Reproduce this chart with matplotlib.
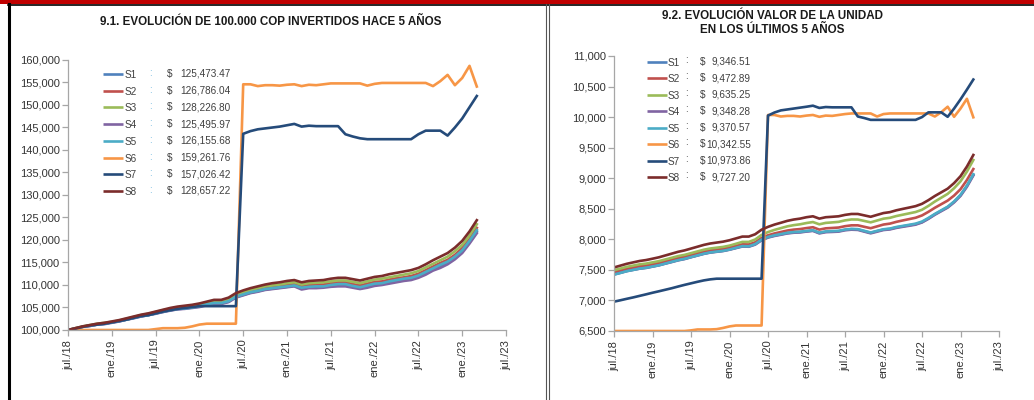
import matplotlib
matplotlib.use("Agg")
import matplotlib.pyplot as plt
from matplotlib.lines import Line2D
from matplotlib.ticker import FuncFormatter
import numpy as np

plt.rcParams['font.family'] = ['Liberation Sans', 'DejaVu Sans']

W, H = 1034, 400

tick_labels = ["jul./18", "ene./19", "jul./19", "ene./20", "jul./20", "ene./21",
               "jul./21", "ene./22", "jul./22", "ene./23", "jul./23"]
names = ["S1", "S2", "S3", "S4", "S5", "S6", "S7", "S8"]
colors = ["#4F81BD", "#C0504D", "#9BBB59", "#8064A2", "#4BACC6", "#F79646", "#254B7A", "#7B2C2B"]
legend_left = ["125,473.47", "126,786.04", "128,226.80", "125,495.97",
               "126,155.68", "159,261.76", "157,026.42", "128,657.22"]
legend_right = ["9,346.51", "9,472.89", "9,635.25", "9,348.28",
                "9,370.57", "10,342.55", "10,973.86", "9,727.20"]

# 9.1 value of 100.000 COP, monthly jul/18 .. mar/23 (thousands)
left_s1 = [100.0, 100.3, 100.7, 100.9, 101.2, 101.4, 101.7, 101.9, 102.3, 102.7, 103.0, 103.3, 103.7, 104.0, 104.4,
           104.6, 104.8, 105.0, 105.2, 105.6, 105.9, 105.9, 106.3, 107.3, 107.8, 108.3, 108.6, 109.0, 109.2, 109.4,
           109.6, 109.8, 109.2, 109.5, 109.6, 109.6, 109.8, 110.0, 110.0, 109.6, 109.3, 109.7, 110.1, 110.2, 110.6,
           110.9, 111.2, 111.4, 111.9, 112.6, 113.4, 114.2, 114.9, 116.0, 117.4, 119.5, 121.9]
left_s2 = [100.0, 100.4, 100.7, 101.0, 101.3, 101.5, 101.7, 102.0, 102.4, 102.8, 103.1, 103.4, 103.8, 104.2, 104.5,
           104.8, 105.0, 105.2, 105.4, 105.8, 106.1, 106.1, 106.6, 107.5, 108.1, 108.6, 109.0, 109.3, 109.6, 109.8,
           110.1, 110.2, 109.7, 110.0, 110.1, 110.1, 110.4, 110.6, 110.6, 110.2, 109.9, 110.3, 110.7, 110.8, 111.2,
           111.5, 111.7, 112.0, 112.5, 113.3, 114.1, 114.9, 115.6, 116.7, 118.2, 120.2, 122.7]
left_s3 = [100.0, 100.4, 100.8, 101.1, 101.4, 101.6, 101.8, 102.1, 102.5, 102.9, 103.3, 103.6, 104.0, 104.4, 104.7,
           105.0, 105.2, 105.4, 105.7, 106.1, 106.4, 106.4, 106.9, 107.9, 108.4, 108.9, 109.3, 109.7, 109.9, 110.1,
           110.4, 110.6, 110.1, 110.4, 110.5, 110.6, 110.8, 111.0, 111.0, 110.7, 110.4, 110.8, 111.2, 111.4, 111.7,
           112.0, 112.3, 112.6, 113.1, 113.9, 114.7, 115.5, 116.3, 117.5, 118.9, 121.0, 123.5]
left_s4 = [100.0, 100.3, 100.7, 100.9, 101.2, 101.3, 101.6, 101.9, 102.3, 102.6, 103.0, 103.3, 103.6, 104.0, 104.3,
           104.6, 104.7, 104.9, 105.1, 105.5, 105.8, 105.8, 106.2, 107.2, 107.7, 108.2, 108.5, 108.9, 109.1, 109.3,
           109.5, 109.7, 109.0, 109.3, 109.3, 109.4, 109.6, 109.7, 109.7, 109.4, 109.1, 109.4, 109.8, 110.0, 110.3,
           110.6, 110.9, 111.1, 111.6, 112.3, 113.2, 113.8, 114.6, 115.7, 117.1, 119.2, 121.5]
left_s5 = [100.0, 100.3, 100.7, 101.0, 101.2, 101.4, 101.7, 102.0, 102.3, 102.7, 103.1, 103.3, 103.7, 104.1, 104.4,
           104.7, 104.8, 105.0, 105.3, 105.7, 106.0, 106.0, 106.4, 107.4, 107.9, 108.4, 108.7, 109.1, 109.3, 109.5,
           109.7, 109.9, 109.4, 109.6, 109.7, 109.7, 110.0, 110.2, 110.2, 109.8, 109.5, 109.9, 110.3, 110.4, 110.8,
           111.1, 111.4, 111.6, 112.1, 112.9, 113.7, 114.5, 115.2, 116.3, 117.7, 119.8, 122.2]
left_s6 = [100.0, 100.0, 100.0, 100.0, 100.0, 100.0, 100.0, 100.0, 100.0, 100.0, 100.0, 100.0, 100.2, 100.4, 100.4,
           100.4, 100.5, 100.8, 101.2, 101.4, 101.4, 101.4, 101.4, 101.4, 154.6, 154.6, 154.2, 154.4, 154.4, 154.3,
           154.5, 154.6, 154.2, 154.5, 154.4, 154.6, 154.8, 154.8, 154.8, 154.8, 154.8, 154.3, 154.7, 154.9, 154.9,
           154.9, 154.9, 154.9, 154.9, 154.9, 154.2, 155.3, 156.7, 154.4, 156.0, 158.7, 154.1]
left_s7 = [100.0, 100.3, 100.7, 101.0, 101.2, 101.4, 101.7, 102.0, 102.3, 102.7, 103.1, 103.3, 103.7, 104.1, 104.4,
           104.7, 104.9, 105.1, 105.3, 105.3, 105.3, 105.3, 105.3, 105.3, 143.6, 144.2, 144.6, 144.8, 145.0, 145.2,
           145.5, 145.8, 145.2, 145.4, 145.3, 145.3, 145.3, 145.3, 143.5, 143.0, 142.6, 142.4, 142.4, 142.4, 142.4,
           142.4, 142.4, 142.4, 143.5, 144.3, 144.3, 144.3, 143.2, 145.0, 147.0, 149.5, 152.0]
left_s8 = [100.0, 100.4, 100.8, 101.1, 101.4, 101.6, 101.9, 102.2, 102.6, 103.0, 103.4, 103.7, 104.1, 104.5, 104.9,
           105.2, 105.4, 105.6, 105.9, 106.3, 106.7, 106.7, 107.2, 108.2, 108.8, 109.3, 109.7, 110.1, 110.4, 110.6,
           110.9, 111.1, 110.6, 110.9, 111.0, 111.1, 111.4, 111.6, 111.6, 111.3, 111.0, 111.4, 111.8, 112.0, 112.4,
           112.7, 113.0, 113.3, 113.8, 114.6, 115.5, 116.3, 117.1, 118.3, 119.8, 121.9, 124.4]

# 9.2 unit value, monthly jul/18 .. mar/23
right_s1 = [7428, 7456, 7484, 7505, 7525, 7538, 7558, 7579, 7607, 7634, 7662, 7683, 7711, 7739, 7767, 7788, 7801, 7814,
            7835, 7862, 7888, 7885, 7920, 7991, 8034, 8061, 8081, 8102, 8114, 8119, 8132, 8144, 8104, 8124, 8129, 8134,
            8155, 8166, 8162, 8134, 8107, 8134, 8160, 8170, 8195, 8213, 8230, 8248, 8281, 8341, 8409, 8468, 8528, 8613,
            8720, 8872, 9055]
right_s2 = [7464, 7492, 7519, 7540, 7561, 7573, 7593, 7613, 7641, 7668, 7696, 7716, 7744, 7771, 7799, 7819, 7832, 7844,
            7865, 7892, 7919, 7916, 7951, 8023, 8066, 8096, 8120, 8144, 8159, 8168, 8184, 8198, 8159, 8180, 8186, 8193,
            8215, 8229, 8229, 8205, 8182, 8212, 8242, 8257, 8286, 8309, 8331, 8353, 8391, 8450, 8516, 8575, 8634, 8716,
            8820, 8970, 9150]
right_s3 = [7495, 7522, 7550, 7570, 7591, 7603, 7623, 7643, 7671, 7698, 7726, 7746, 7774, 7802, 7830, 7850, 7863, 7876,
            7897, 7927, 7958, 7958, 7997, 8072, 8119, 8154, 8183, 8212, 8232, 8246, 8267, 8283, 8246, 8269, 8277, 8286,
            8310, 8325, 8324, 8301, 8278, 8308, 8338, 8352, 8381, 8403, 8425, 8447, 8484, 8547, 8618, 8681, 8744, 8836,
            8949, 9108, 9298]
right_s4 = [7425, 7452, 7480, 7500, 7520, 7532, 7553, 7574, 7602, 7628, 7656, 7677, 7707, 7734, 7762, 7783, 7796, 7808,
            7830, 7856, 7882, 7879, 7913, 7984, 8029, 8055, 8075, 8096, 8108, 8113, 8127, 8138, 8097, 8117, 8121, 8126,
            8148, 8158, 8154, 8126, 8098, 8125, 8152, 8162, 8187, 8205, 8222, 8240, 8276, 8335, 8402, 8461, 8519, 8604,
            8710, 8860, 9045]
right_s5 = [7422, 7450, 7479, 7500, 7521, 7535, 7555, 7576, 7604, 7632, 7660, 7681, 7709, 7737, 7765, 7786, 7799, 7812,
            7833, 7861, 7889, 7886, 7922, 7995, 8039, 8066, 8086, 8107, 8119, 8124, 8137, 8149, 8109, 8129, 8134, 8139,
            8160, 8171, 8167, 8139, 8112, 8139, 8165, 8176, 8202, 8220, 8238, 8257, 8291, 8350, 8416, 8475, 8534, 8620,
            8728, 8881, 9065]
right_s6 = [6500, 6500, 6500, 6500, 6500, 6500, 6500, 6500, 6500, 6500, 6500, 6500, 6510, 6525, 6525, 6525, 6530, 6550,
            6575, 6590, 6590, 6590, 6590, 6590, 10035, 10035, 10010, 10020, 10020, 10010, 10025, 10035, 10005, 10025,
            10020, 10035, 10050, 10060, 10060, 10060, 10060, 10010, 10050, 10060, 10060, 10060, 10060, 10060, 10060,
            10060, 10010, 10080, 10170, 10005, 10140, 10300, 9997]
right_s7 = [6980, 7003, 7027, 7050, 7075, 7100, 7126, 7150, 7175, 7200, 7228, 7255, 7280, 7305, 7328, 7345, 7356, 7356,
            7356, 7356, 7356, 7356, 7356, 7356, 10025, 10075, 10110, 10125, 10140, 10155, 10170, 10187, 10150, 10165,
            10160, 10160, 10160, 10160, 10010, 9985, 9955, 9955, 9955, 9955, 9955, 9955, 9955, 9955, 10000, 10078,
            10078, 10078, 10005, 10140, 10290, 10450, 10615]
right_s8 = [7540, 7570, 7600, 7623, 7646, 7661, 7683, 7706, 7736, 7766, 7796, 7819, 7849, 7879, 7909, 7932, 7947, 7962,
            7985, 8015, 8045, 8045, 8083, 8158, 8204, 8241, 8271, 8302, 8324, 8339, 8362, 8377, 8339, 8362, 8369, 8377,
            8400, 8415, 8415, 8392, 8369, 8400, 8430, 8445, 8475, 8498, 8520, 8543, 8581, 8641, 8709, 8769, 8829, 8920,
            9033, 9191, 9380]

left_data = [left_s1, left_s2, left_s3, left_s4, left_s5, left_s6, left_s7, left_s8]
right_data = [right_s1, right_s2, right_s3, right_s4, right_s5, right_s6, right_s7, right_s8]


def fx(x):
    return x / W


def fy(y):
    return 1 - y / H


def style_axis(ax, ymin, ymax, ystep):
    ax.set_xlim(0, 60)
    ax.set_ylim(ymin, ymax)
    ax.set_xticks(np.arange(0, 61, 6))
    ax.set_xticklabels(tick_labels, rotation=90)
    ax.set_yticks(np.arange(ymin, ymax + 1, ystep))
    ax.yaxis.set_major_formatter(FuncFormatter(lambda v, p: f"{v:,.0f}"))
    for s in ["top", "right"]:
        ax.spines[s].set_visible(False)
    for s in ["left", "bottom"]:
        ax.spines[s].set_color("#A6A6A6")
        ax.spines[s].set_linewidth(0.9)
    ax.tick_params(axis="both", direction="out", length=4, width=0.9, color="#A6A6A6",
                   labelsize=8, labelcolor="#333333")
    ax.tick_params(axis="y", pad=2)
    ax.tick_params(axis="x", pad=3)
    for lab in ax.get_xticklabels():
        lab.set_verticalalignment("top")
    ax.patch.set_alpha(0)


fig = plt.figure(figsize=(W / 100, H / 100), dpi=100)

# frame decorations
fig.add_artist(plt.Rectangle((0, fy(4)), 1, 4 / H, transform=fig.transFigure, color="#C00000", lw=0))
fig.add_artist(Line2D([fx(8), 1], [fy(4.5), fy(4.5)], transform=fig.transFigure, color="black", lw=1.2))
fig.add_artist(Line2D([fx(9), fx(9)], [fy(4), 0], transform=fig.transFigure, color="black", lw=2.2))
fig.add_artist(Line2D([fx(546), fx(546)], [fy(4), 0], transform=fig.transFigure, color="#555555", lw=0.8))
fig.add_artist(Line2D([fx(549), fx(549)], [fy(4), 0], transform=fig.transFigure, color="#555555", lw=0.8))

months = np.arange(len(left_s1))

# 9.1
ax1 = fig.add_axes([fx(68), fy(330), fx(506) - fx(68), fy(60) - fy(330)])
for vals, c in zip(left_data, colors):
    ax1.plot(months, np.array(vals) * 1000, color=c, lw=1.9, solid_joinstyle="round")
style_axis(ax1, 100000, 160000, 5000)
fig.text(fx(271), fy(22), "9.1. EVOLUCIÓN DE 100.000 COP INVERTIDOS HACE 5 AÑOS",
         ha="center", va="center", fontsize=8.4, fontweight="bold", color="#1a1a1a")

# 9.2
ax2 = fig.add_axes([fx(614), fy(331), fx(999) - fx(614), fy(56) - fy(331)])
for vals, c in zip(right_data, colors):
    ax2.plot(months, vals, color=c, lw=1.9, solid_joinstyle="round")
style_axis(ax2, 6500, 11000, 500)
fig.text(fx(772), fy(16), "9.2. EVOLUCIÓN VALOR DE LA UNIDAD",
         ha="center", va="center", fontsize=8.4, fontweight="bold", color="#1a1a1a")
fig.text(fx(772), fy(29.5), "EN LOS ÚLTIMOS 5 AÑOS",
         ha="center", va="center", fontsize=8.4, fontweight="bold", color="#1a1a1a")

# legends
for i, (n, c) in enumerate(zip(names, colors)):
    y = 74 + i * 16.7
    fig.add_artist(Line2D([fx(103), fx(123)], [fy(y), fy(y)], transform=fig.transFigure, color=c, lw=1.9,
                          solid_capstyle="butt"))
    fig.text(fx(124.5), fy(y + 1), n, ha="left", va="center", fontsize=7.2, color="#404040")
    fig.text(fx(150), fy(y - 1), ":", ha="center", va="center", fontsize=7.2, color="#6FB7DE")
    fig.text(fx(167), fy(y), "$", ha="left", va="center", fontsize=7.2, color="#404040")
    fig.text(fx(180), fy(y), legend_left[i], ha="left", va="center", fontsize=7.2, color="#404040")

    y = 62 + i * 16.45
    fig.add_artist(Line2D([fx(647), fx(667)], [fy(y), fy(y)], transform=fig.transFigure, color=c, lw=1.9,
                          solid_capstyle="butt"))
    fig.text(fx(668), fy(y + 1), n, ha="left", va="center", fontsize=7.2, color="#404040")
    fig.text(fx(687), fy(y - 2), ":", ha="center", va="center", fontsize=7.2, color="#404040")
    fig.text(fx(700), fy(y), "$", ha="left", va="center", fontsize=7.2, color="#404040")
    fig.text(fx(751), fy(y), legend_right[i], ha="right", va="center", fontsize=7.2, color="#404040")

fig.savefig("out.png", dpi=100)
